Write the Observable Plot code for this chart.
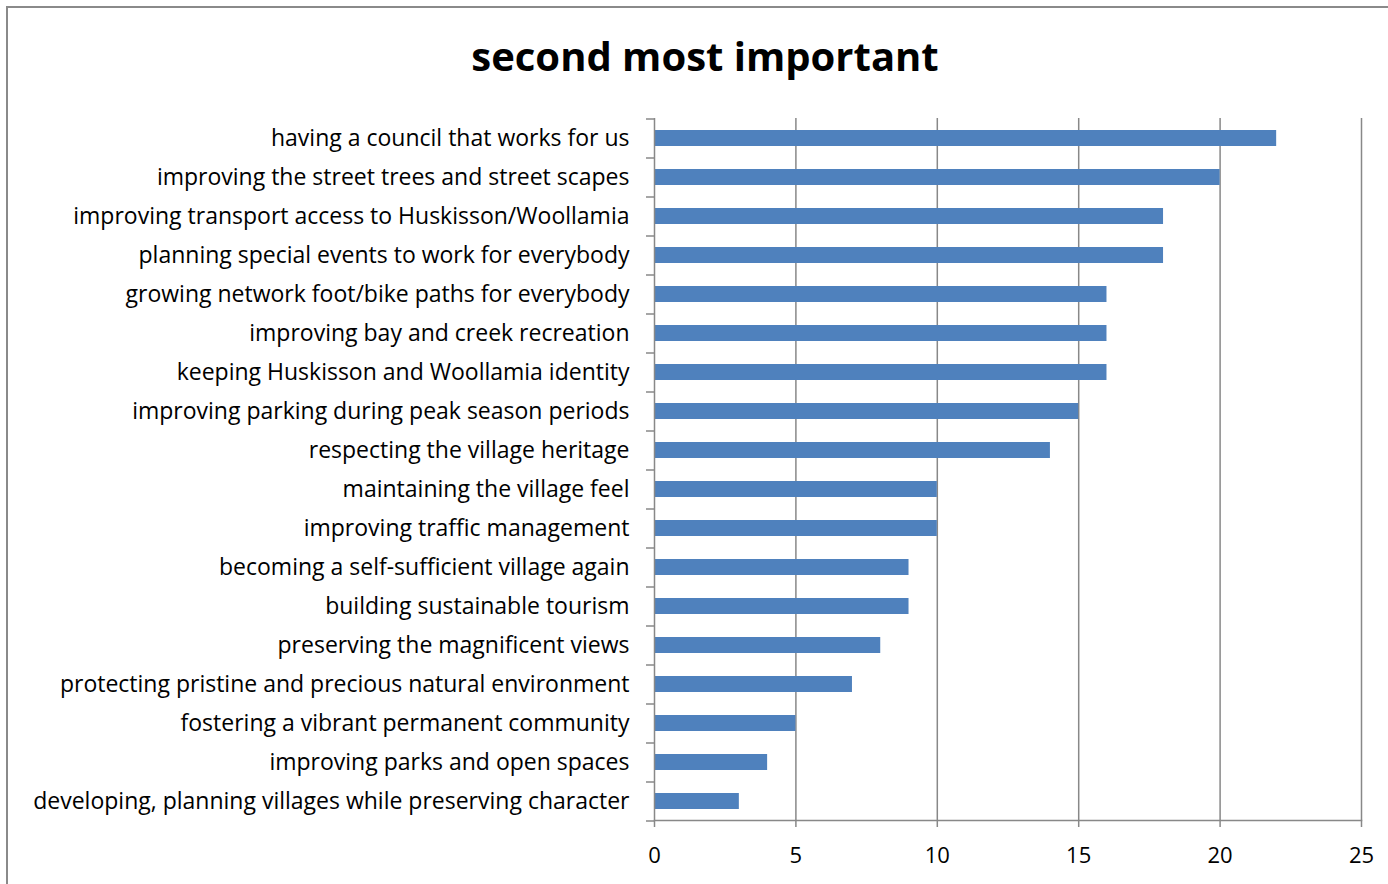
<!DOCTYPE html>
<html><head><meta charset="utf-8">
<script src="https://cdn.jsdelivr.net/npm/d3@7"></script>
<script src="https://cdn.jsdelivr.net/npm/@observablehq/plot@0.6"></script>
<style>
html,body{margin:0;padding:0;background:#fff;overflow:hidden;width:1388px;height:884px}
#frame{position:absolute;left:6px;top:6px;width:1400px;height:900px;border:2px solid #8a8a8a;box-sizing:border-box}
#title{position:absolute;left:0;top:36px;width:1410px;text-align:center;font-family:"Open Sans",sans-serif;font-weight:bold;font-size:40px;line-height:40px;color:#000}
#chart{position:absolute;left:0;top:100px}
</style></head>
<body>
<div id="frame"></div>
<div id="title">second most important</div>
<div id="chart"></div>
<script>
const categories = [
  "having a council that works for us",
  "improving the street trees and street scapes",
  "improving transport access to Huskisson/Woollamia",
  "planning special events to work for everybody",
  "growing network foot/bike paths for everybody",
  "improving bay and creek recreation",
  "keeping Huskisson and Woollamia identity",
  "improving parking during peak season periods",
  "respecting the village heritage",
  "maintaining the village feel",
  "improving traffic management",
  "becoming a self-sufficient village again",
  "building sustainable tourism",
  "preserving the magnificent views",
  "protecting pristine and precious natural environment",
  "fostering a vibrant permanent community",
  "improving parks and open spaces",
  "developing, planning villages while preserving character"
];
const values = [22, 20, 18, 18, 16, 16, 16, 15, 14, 10, 10, 9, 9, 8, 7, 5, 4, 3];
const xTicks = [0, 5, 10, 15, 20, 25];
const data = categories.map((c, i) => ({category: c, value: values[i]}));

const chart = Plot.plot({
  width: 1388, height: 784,
  marginTop: 18, marginBottom: 64, marginLeft: 654, marginRight: 27,
  style: {fontFamily: "'Open Sans', sans-serif", fontSize: "23px", color: "#000", background: "transparent"},
  x: {domain: [0, 25], label: null},
  y: {domain: categories, paddingInner: 0.59, paddingOuter: 0.295, label: null},
  marks: [
    Plot.ruleX(xTicks.slice(1), {stroke: "#888", strokeWidth: 1.5}),
    Plot.barX(data, {x: "value", y: "category", fill: "#4F81BD"}),
    Plot.ruleX([0], {stroke: "#888", strokeWidth: 1.5}),
    Plot.frame({anchor: "bottom", stroke: "#888", strokeWidth: 1.5}),
    Plot.axisX(xTicks, {tickSize: 7, tickPadding: 20, stroke: "#888", strokeWidth: 1.5, fill: "#000", fontSize: 22, label: null}),
    Plot.axisY({tickSize: 0, tickPadding: 25, fill: "#000", fontSize: 23, label: null}),
    Plot.axisY({tickSize: 8, text: null, dy: -19.5, stroke: "#888", strokeWidth: 1.5, label: null}),
    Plot.axisY([categories[categories.length - 1]], {tickSize: 8, text: null, dy: 19.5, stroke: "#888", strokeWidth: 1.5, label: null})
  ]
});
document.getElementById("chart").appendChild(chart);
</script>
</body></html>
